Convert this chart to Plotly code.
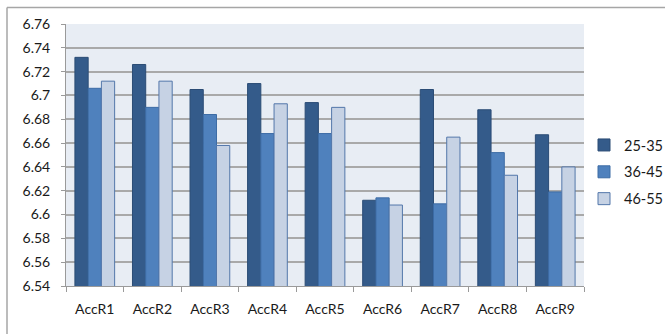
import plotly.graph_objects as go

categories = ["AccR1", "AccR2", "AccR3", "AccR4", "AccR5", "AccR6", "AccR7", "AccR8", "AccR9"]
age_25_35 = [6.732, 6.726, 6.705, 6.710, 6.694, 6.612, 6.705, 6.688, 6.667]
age_36_45 = [6.706, 6.690, 6.684, 6.668, 6.668, 6.614, 6.609, 6.652, 6.619]
age_46_55 = [6.712, 6.712, 6.658, 6.693, 6.690, 6.608, 6.665, 6.633, 6.640]
y_ticks = [6.54, 6.56, 6.58, 6.60, 6.62, 6.64, 6.66, 6.68, 6.70, 6.72, 6.74, 6.76]
y_tick_text = ["6.54", "6.56", "6.58", "6.6", "6.62", "6.64", "6.66", "6.68", "6.7", "6.72", "6.74", "6.76"]

series = [
    ("25-35", age_25_35, "#345B8A", "#2B4C75"),
    ("36-45", age_36_45, "#4F81BD", "#3D6CA5"),
    ("46-55", age_46_55, "#C6D2E4", "#5377AA"),
]

fig = go.Figure()
for name, vals, fill, edge in series:
    fig.add_trace(go.Bar(
        x=categories, y=vals, name=name, legendgroup=name,
        marker=dict(color=fill, line=dict(color=edge, width=1)),
    ))

font = "Lato, 'Open Sans', sans-serif"
frame = dict(color="#A6A6A6", width=1.5)

fig.update_layout(
    width=665, height=334,
    margin=dict(l=66, r=81, t=24, b=48, autoexpand=False),
    paper_bgcolor="white",
    plot_bgcolor="#E8EDF4",
    barmode="group",
    bargap=0.31,
    bargroupgap=0,
    font=dict(family=font, size=13, color="#1A1A1A"),
    legend=dict(
        x=1.0, xref="paper", xanchor="left", y=0.435, yanchor="middle",
        traceorder="grouped", tracegroupgap=5,
        font=dict(family=font, size=14.5, color="#1A1A1A"),
        itemwidth=30, bgcolor="rgba(0,0,0,0)",
    ),
    showlegend=True,
    # outer chart frame: left and top edges
    shapes=[
        dict(type="line", xref="paper", yref="paper",
             x0=-0.1139, x1=-0.1139, y0=-0.3, y1=1.063, line=frame, layer="below"),
        dict(type="line", xref="paper", yref="paper",
             x0=-0.1139, x1=1.3, y0=1.063, y1=1.063, line=frame, layer="below"),
    ],
)

fig.update_xaxes(
    type="category",
    showgrid=False,
    showline=True, linecolor="#9A9A9A", linewidth=1,
    ticks="outside", tickson="boundaries", ticklen=5, tickcolor="#9A9A9A",
    ticklabelstandoff=10,
    tickfont=dict(family=font, size=14, color="#1A1A1A"),
)
fig.update_yaxes(
    range=[6.54, 6.76],
    tickvals=y_ticks, ticktext=y_tick_text,
    showgrid=True, gridcolor="#A9A9A9", gridwidth=1.5,
    showline=True, linecolor="#9A9A9A", linewidth=1,
    ticks="outside", ticklen=4, tickcolor="#9A9A9A",
    ticklabelstandoff=8,
    tickfont=dict(family=font, size=14, color="#1A1A1A"),
    zeroline=False,
)

fig.write_html("out.html")
